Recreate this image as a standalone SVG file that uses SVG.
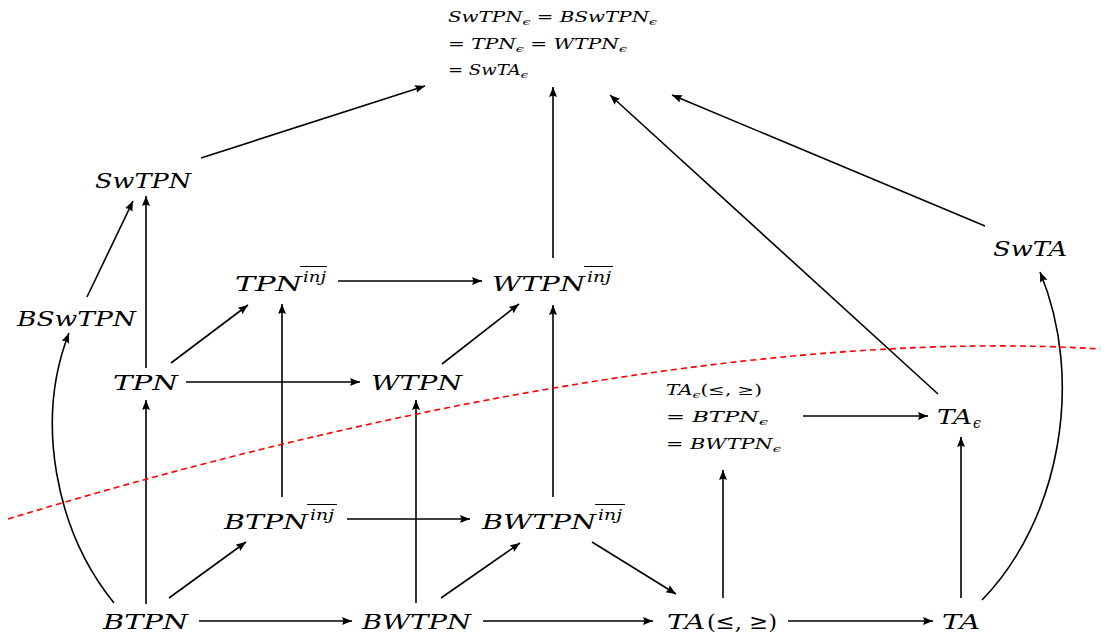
<svg xmlns="http://www.w3.org/2000/svg" width="1106" height="636" viewBox="0 0 1106 636">
<style>
.m{font-family:"DejaVu Serif","Liberation Serif",serif;font-style:italic;font-size:21px;fill:#000}
.u{font-family:"DejaVu Serif","Liberation Serif",serif;font-style:normal;font-size:21px;fill:#000}
.s{font-family:"DejaVu Serif","Liberation Serif",serif;font-size:14px;fill:#000}
.i{font-style:italic}
.sub{font-size:10px;font-style:italic}
.sup{font-family:"DejaVu Serif","Liberation Serif",serif;font-style:italic;font-size:14px;fill:#000}
.ol{stroke:#000;stroke-width:1}
.e{fill:none;stroke:#000;stroke-width:1.6}
.a{marker-end:url(#ah)}
.red{fill:none;stroke:#ff0000;stroke-width:1.6;stroke-dasharray:6 4}
</style>
<defs>
<marker id="ah" markerUnits="userSpaceOnUse" markerWidth="12" markerHeight="10" refX="10" refY="4" orient="auto">
<path d="M0,0 L10,4 L0,8 L1.5,4 z" fill="#000"/>
</marker>
</defs>
<rect width="1106" height="636" fill="#fff"/>

<g id="top">
<text class="s" x="448" y="22" textLength="209" lengthAdjust="spacingAndGlyphs"><tspan class="i">SwTPN</tspan><tspan class="sub" dy="3">ϵ</tspan><tspan dy="-3"> = </tspan><tspan class="i">BSwTPN</tspan><tspan class="sub" dy="3">ϵ</tspan></text>
<text class="s" x="448" y="49" textLength="179" lengthAdjust="spacingAndGlyphs"><tspan>= </tspan><tspan class="i">TPN</tspan><tspan class="sub" dy="3">ϵ</tspan><tspan dy="-3"> = </tspan><tspan class="i">WTPN</tspan><tspan class="sub" dy="3">ϵ</tspan></text>
<text class="s" x="448" y="75" textLength="80" lengthAdjust="spacingAndGlyphs"><tspan>= </tspan><tspan class="i">SwTA</tspan><tspan class="sub" dy="3">ϵ</tspan></text>
</g>

<g id="SwTPN"><text class="m" x="95" y="188" textLength="96" lengthAdjust="spacingAndGlyphs">SwTPN</text></g>
<g id="BSwTPN"><text class="m" x="17" y="326" textLength="119" lengthAdjust="spacingAndGlyphs">BSwTPN</text></g>
<g id="TPNinj"><text class="m" x="235" y="291" textLength="67" lengthAdjust="spacingAndGlyphs">TPN</text><text class="sup" x="303" y="282" textLength="23" lengthAdjust="spacingAndGlyphs">inj</text><line class="ol" x1="300" y1="266.5" x2="327" y2="266.5"/></g>
<g id="WTPNinj"><text class="m" x="492" y="291" textLength="93" lengthAdjust="spacingAndGlyphs">WTPN</text><text class="sup" x="587" y="282" textLength="24" lengthAdjust="spacingAndGlyphs">inj</text><line class="ol" x1="584" y1="266.5" x2="613" y2="266.5"/></g>
<g id="SwTA"><text class="m" x="993" y="256" textLength="74" lengthAdjust="spacingAndGlyphs">SwTA</text></g>
<g id="TPN"><text class="m" x="113" y="390" textLength="65" lengthAdjust="spacingAndGlyphs">TPN</text></g>
<g id="WTPN"><text class="m" x="371" y="390" textLength="91" lengthAdjust="spacingAndGlyphs">WTPN</text></g>
<g id="TAeps-block">
<text class="s" x="666" y="395" textLength="96" lengthAdjust="spacingAndGlyphs"><tspan class="i">TA</tspan><tspan class="sub" dy="3">ϵ</tspan><tspan dy="-3">(≤, ≥)</tspan></text>
<text class="s" x="666" y="422" textLength="102" lengthAdjust="spacingAndGlyphs"><tspan>= </tspan><tspan class="i">BTPN</tspan><tspan class="sub" dy="3">ϵ</tspan></text>
<text class="s" x="666" y="449" textLength="115" lengthAdjust="spacingAndGlyphs"><tspan>= </tspan><tspan class="i">BWTPN</tspan><tspan class="sub" dy="3">ϵ</tspan></text>
</g>
<g id="TAeps"><text class="m" x="937" y="424" textLength="35" lengthAdjust="spacingAndGlyphs">TA</text><text class="sup" x="973" y="428">ϵ</text></g>
<g id="BTPNinj"><text class="m" x="224" y="529" textLength="84" lengthAdjust="spacingAndGlyphs">BTPN</text><text class="sup" x="310" y="520" textLength="24" lengthAdjust="spacingAndGlyphs">inj</text><line class="ol" x1="307" y1="504.5" x2="337" y2="504.5"/></g>
<g id="BWTPNinj"><text class="m" x="482" y="529" textLength="114" lengthAdjust="spacingAndGlyphs">BWTPN</text><text class="sup" x="598" y="520" textLength="24" lengthAdjust="spacingAndGlyphs">inj</text><line class="ol" x1="595" y1="504.5" x2="625" y2="504.5"/></g>
<g id="BTPN"><text class="m" x="103" y="629" textLength="85" lengthAdjust="spacingAndGlyphs">BTPN</text></g>
<g id="BWTPN"><text class="m" x="362" y="629" textLength="109" lengthAdjust="spacingAndGlyphs">BWTPN</text></g>
<g id="TAle"><text class="m" x="667" y="629" textLength="38" lengthAdjust="spacingAndGlyphs">TA</text><text class="u" x="707" y="629" textLength="70" lengthAdjust="spacingAndGlyphs">(≤, ≥)</text></g>
<g id="TA"><text class="m" x="942" y="629" textLength="38" lengthAdjust="spacingAndGlyphs">TA</text></g>

<g id="connectors">
<path class="e a" d="M201,158 L425,86"/>
<path class="e a" d="M87,297 L133,201"/>
<path class="e a" d="M146,368 L146,196"/>
<path class="e a" d="M171,363 L248,305"/>
<path class="e a" d="M186,382 L360,382"/>
<path class="e a" d="M338,281 L482,281"/>
<path class="e a" d="M442,364 L519,304"/>
<path class="e a" d="M553,258 L553,87"/>
<path class="e a" d="M938,394 L610,95"/>
<path class="e a" d="M985,226 L672,95"/>
<path class="e a" d="M114,603 C55,530 35,420 69,333"/>
<path class="e a" d="M146,604 L146,400"/>
<path class="e a" d="M169,598 L246,542"/>
<path class="e a" d="M199,621 L352,621"/>
<path class="e a" d="M282,497 L282,304"/>
<path class="e a" d="M347,519 L470,519"/>
<path class="e a" d="M416,603 L416,400"/>
<path class="e a" d="M441,598 L520,543"/>
<path class="e a" d="M553,497 L553,305"/>
<path class="e a" d="M592,542 L676,594"/>
<path class="e a" d="M483,621 L653,621"/>
<path class="e a" d="M723,598 L723,470"/>
<path class="e a" d="M803,416 L928,416"/>
<path class="e a" d="M788,621 L933,621"/>
<path class="e a" d="M961,598 L961,437"/>
<path class="e a" d="M982,600 C1060,520 1085,380 1040,272"/>
</g>

<path class="red" d="M8,519 C400,400 800,330 1100,349"/>
</svg>
